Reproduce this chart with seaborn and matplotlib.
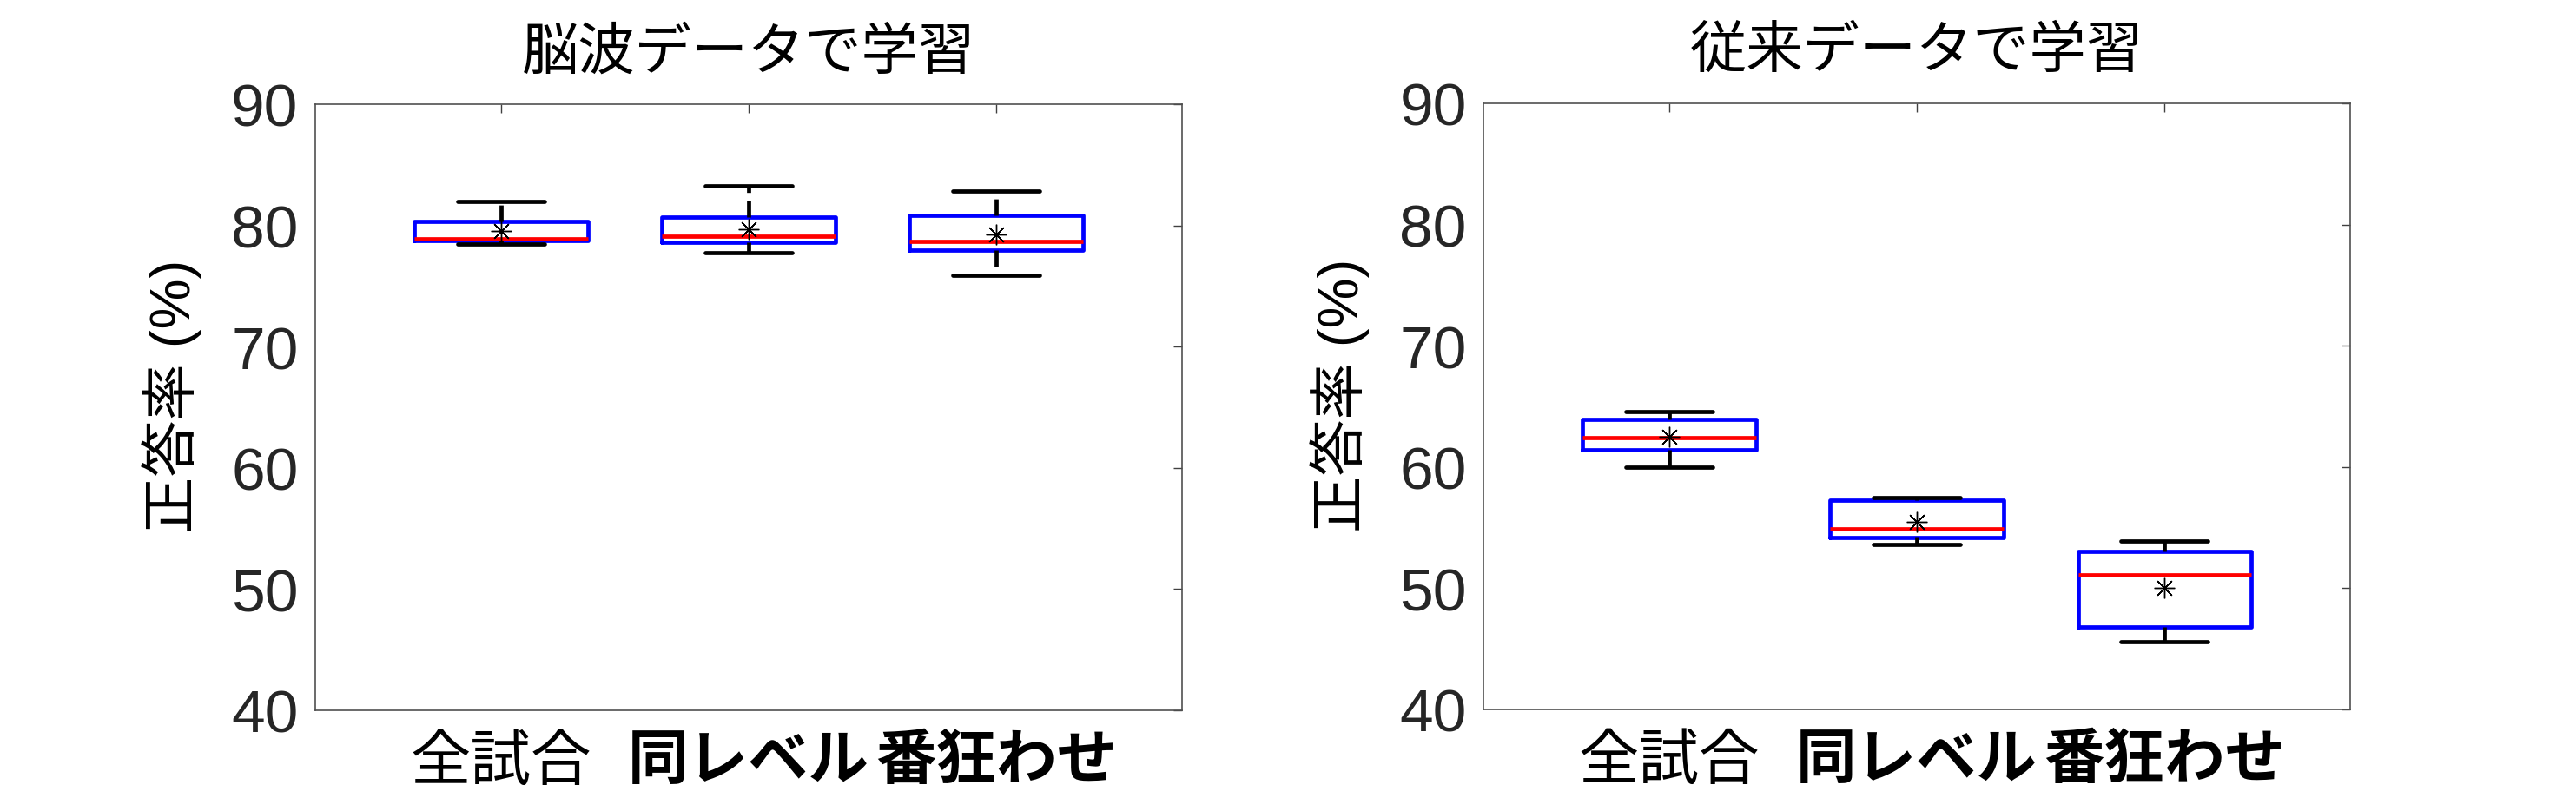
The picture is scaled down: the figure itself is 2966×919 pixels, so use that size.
import numpy as np
import pandas as pd
import seaborn as sns
import matplotlib.pyplot as plt

## Data (per-condition accuracy values, %)
groups = ['全試合', '同レベル', '番狂わせ']

eeg_all = [78.5, 78.6, 78.73, 78.8, 78.9, 79.2, 80.35, 80.6, 82.0]
eeg_same = [77.73, 78.2, 78.6, 78.9, 79.09, 79.6, 80.69, 81.04, 83.27]
eeg_upset = [75.87, 77.0, 77.94, 78.3, 78.66, 80.0, 80.81, 82.08, 82.86]

conv_all = [59.96, 60.8, 61.44, 62.0, 62.45, 63.2, 63.93, 64.17, 64.55]
conv_same = [53.59, 53.9, 54.18, 54.5, 54.88, 56.26, 57.29, 57.4, 57.5]
conv_upset = [45.59, 46.2, 46.83, 48.6, 51.12, 51.8, 53.06, 53.33, 53.92]

titles = ['脳波データで学習', '従来データで学習']
ylabel = '正答率 (%)'
yticks = [40, 50, 60, 70, 80, 90]


def to_long(a, b, c):
    return pd.DataFrame({
        'group': [groups[0]] * len(a) + [groups[1]] * len(b) + [groups[2]] * len(c),
        'value': a + b + c,
    })


eeg = to_long(eeg_all, eeg_same, eeg_upset)
conv = to_long(conv_all, conv_same, conv_upset)

sns.set_style('white')
plt.rcParams['font.family'] = ['Liberation Sans', 'Noto Sans CJK JP', 'DejaVu Sans']

fig = plt.figure(figsize=(29.66, 9.2), dpi=100)
ax1 = fig.add_axes([0.1224, 0.1098, 0.3365, 0.7587])
ax2 = fig.add_axes([0.5759, 0.1109, 0.3365, 0.7587])

lw = 3.4
for ax, df, title in [(ax1, eeg, titles[0]), (ax2, conv, titles[1])]:
    sns.boxplot(data=df, x='group', y='value', order=groups, ax=ax,
                fill=False, color='blue', width=0.7, whis=(0, 100),
                showfliers=False, showmeans=True, linewidth=lw,
                boxprops=dict(color='blue', linewidth=lw),
                medianprops=dict(color='red', linewidth=lw),
                whiskerprops=dict(color='black', linewidth=lw, linestyle=(0, (4, 2))),
                capprops=dict(color='black', linewidth=lw),
                meanprops=dict(marker=(8, 2, 0), markeredgecolor='black',
                               markerfacecolor='black', markersize=17,
                               markeredgewidth=1.0))
    # categories sit at 0, 1, 2
    ax.set_xlim(-0.75, 2.75)
    ax.set_ylim(40, 90)
    ax.set_yticks(yticks)
    ax.set_xlabel('')
    ax.set_ylabel(ylabel, fontsize=47, color='black')
    ax.yaxis.set_label_coords(-0.131, 0.52)
    ax.set_title(title, fontsize=47, pad=30, color='black')
    ax.tick_params(axis='both', direction='in', length=7, width=1.0,
                   top=True, right=True, colors='#404040', labelcolor='#262626')
    ax.tick_params(axis='y', labelsize=50, pad=14)
    ax.tick_params(axis='x', labelsize=50, pad=20, labelcolor='black')
    for sp in ax.spines.values():
        sp.set_color('#505050')
        sp.set_linewidth(1.2)
    for i, t in enumerate(ax.get_xticklabels()):
        t.set_fontweight('normal' if i == 0 else 'bold')

fig.savefig('out.png', dpi=100)
